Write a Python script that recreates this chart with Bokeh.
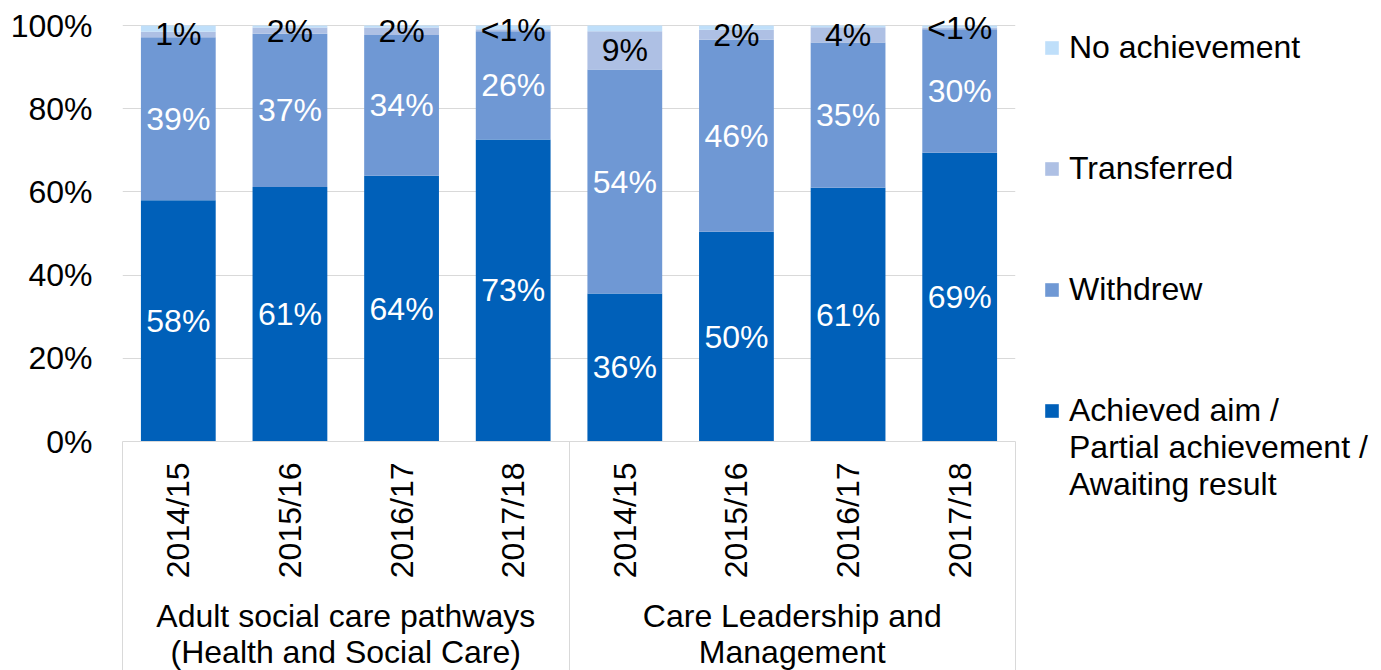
import math
from bokeh.plotting import figure
from bokeh.models import (Range1d, FixedTicker, LinearAxis, Legend, LegendItem,
                          ColumnDataSource, Grid)
from bokeh.core.properties import value
from bokeh.embed import file_html
from bokeh.resources import INLINE

# ---- data ----
years = ["2014/15", "2015/16", "2016/17", "2017/18",
         "2014/15", "2015/16", "2016/17", "2017/18"]
groups = ["Adult social care pathways\n(Health and Social Care)",
          "Care Leadership and\nManagement"]
achieved = [58.0, 61.2, 63.9, 72.6, 35.6, 50.4, 61.0, 69.4]
withdrew = [39.2, 36.8, 33.8, 26.0, 53.8, 46.2, 34.9, 29.7]
transferred = [1.3, 1.5, 1.8, 0.5, 9.2, 2.4, 3.7, 0.4]
no_achievement = [1.5, 0.5, 0.5, 0.9, 1.4, 1.0, 0.4, 0.5]
achieved_labels = ["58%", "61%", "64%", "73%", "36%", "50%", "61%", "69%"]
withdrew_labels = ["39%", "37%", "34%", "26%", "54%", "46%", "35%", "30%"]
transferred_labels = ["1%", "2%", "2%", "<1%", "9%", "2%", "4%", "<1%"]
# legend labels (blank lines keep each swatch beside the first text line)
series_names = [" \n \nAchieved aim /\nPartial achievement /\nAwaiting result",
                "Withdrew",
                " \n \nTransferred\n \n ",
                "No achievement"]
y_ticks = [0, 20, 40, 60, 80, 100]
y_tick_labels = ["0%", "20%", "40%", "60%", "80%", "100%"]

colors = ["#0060B9", "#6F98D4", "#AEC0E4", "#BFDFFA"]
FONT = "Liberation Sans"
FS = "32px"
GRID = "#D9D9D9"

n = len(years)
xs = list(range(n))
src = ColumnDataSource(dict(
    x=xs, ach=achieved, wd=withdrew, tr=transferred, no=no_achievement,
    ach_y=[a / 2 for a in achieved],
    wd_y=[a + w / 2 for a, w in zip(achieved, withdrew)],
    tr_y=[a + w + t / 2 for a, w, t in zip(achieved, withdrew, transferred)],
    ach_l=achieved_labels, wd_l=withdrew_labels, tr_l=transferred_labels,
))

p = figure(frame_width=893, frame_height=440,
           x_range=Range1d(-0.5, n - 0.5), y_range=Range1d(0, 100 * 440 / 416),
           output_backend="svg", toolbar_location=None,
           x_axis_type=None, y_axis_type=None,
           min_border_left=122, min_border_right=366,
           min_border_top=1, min_border_bottom=229)
p.outline_line_color = None
p.background_fill_color = "white"
p.border_fill_color = "white"

yaxis = LinearAxis(ticker=FixedTicker(ticks=y_ticks),
                   major_label_overrides=dict(zip(y_ticks, y_tick_labels)),
                   axis_line_color=None, major_tick_line_color=None,
                   major_tick_out=0, major_tick_in=0,
                   minor_tick_line_color=None, major_label_standoff=30,
                   major_label_text_font_size=FS, major_label_text_font=FONT,
                   major_label_text_color="black")
p.add_layout(yaxis, "left")
p.add_layout(Grid(dimension=1, ticker=yaxis.ticker, grid_line_color=GRID))

renderers = p.vbar_stack(["ach", "wd", "tr", "no"], x="x", width=0.67,
                         color=colors, line_color=None, source=src)

for ycol, tcol, col in [("ach_y", "ach_l", "white"), ("wd_y", "wd_l", "white"),
                        ("tr_y", "tr_l", "black")]:
    p.text(x="x", y=ycol, text=tcol, source=src, text_align="center",
           text_baseline="middle", text_font_size=value(FS),
           text_font=value(FONT), text_color=col)

xaxis1 = LinearAxis(ticker=FixedTicker(ticks=xs, minor_ticks=[-0.5, 3.5, n - 0.5]),
                    major_label_overrides=dict(zip(xs, years)),
                    major_label_orientation=math.pi / 2,
                    major_tick_out=0, major_tick_in=0,
                    minor_tick_out=0, minor_tick_in=-235,
                    minor_tick_line_color=GRID, axis_line_color=GRID,
                    major_label_standoff=21,
                    major_label_text_font_size=FS, major_label_text_font=FONT,
                    major_label_text_color="black")
p.add_layout(xaxis1, "below")

group_centers = [1.5, 5.5]
xaxis2 = LinearAxis(ticker=FixedTicker(ticks=group_centers),
                    major_label_overrides=dict(zip(group_centers, groups)),
                    axis_line_color=None, major_tick_line_color=None,
                    major_tick_out=0, major_tick_in=0,
                    minor_tick_line_color=None, major_label_standoff=16,
                    major_label_text_font_size=FS, major_label_text_font=FONT,
                    major_label_text_line_height=1.0,
                    major_label_text_color="black")
p.add_layout(xaxis2, "below")

items = [LegendItem(label=series_names[i], renderers=[renderers[i]]) for i in [3, 2, 1, 0]]
legend = Legend(items=items, location="top_left", border_line_color=None,
                background_fill_alpha=0, label_text_font_size=FS,
                label_text_font=FONT, label_text_color="black",
                glyph_width=17, glyph_height=17, label_standoff=9,
                spacing=10, padding=0, margin=28)
p.add_layout(legend, "right")

open("out.html", "w").write(file_html(p, INLINE))
